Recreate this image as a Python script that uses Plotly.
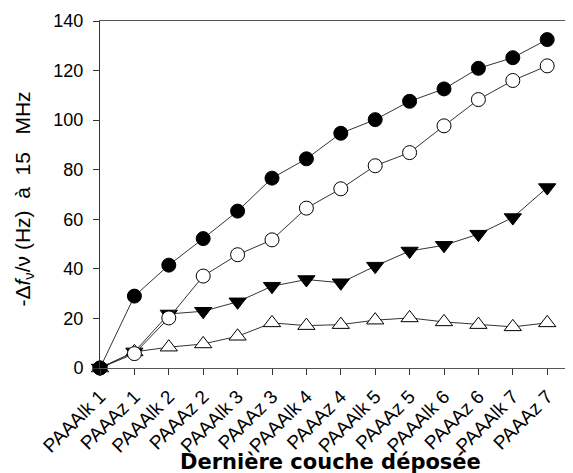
import plotly.graph_objects as go

categories = ["PAAAlk 1", "PAAAz 1", "PAAAlk 2", "PAAAz 2", "PAAAlk 3", "PAAAz 3", "PAAAlk 4",
              "PAAAz 4", "PAAAlk 5", "PAAAz 5", "PAAAlk 6", "PAAAz 6", "PAAAlk 7", "PAAAz 7"]
filled_circles = [0, 29.0, 41.5, 52.2, 63.3, 76.6, 84.4, 94.7, 100.2, 107.6, 112.6, 120.9, 125.2, 132.5]
open_circles = [0, 5.8, 20.2, 37.1, 45.7, 51.7, 64.5, 72.3, 81.6, 86.9, 97.7, 108.3, 116.0, 121.9]
filled_triangles = [0, 6.5, 21.8, 22.9, 26.7, 33.0, 35.7, 34.4, 41.1, 47.2, 49.5, 54.0, 60.7, 72.8]
open_triangles = [0, 6.5, 8.4, 9.7, 12.8, 18.2, 17.1, 17.5, 19.3, 20.2, 18.6, 17.5, 16.6, 18.2]
y_ticks = [0, 20, 40, 60, 80, 100, 120, 140]

xs = list(range(len(categories)))
fig = go.Figure()

def add(vals, symbol, fill, size):
    fig.add_trace(go.Scatter(
        x=xs, y=vals, mode="lines+markers",
        line=dict(color="#333333", width=1),
        marker=dict(symbol=symbol, size=size, color=fill, line=dict(color="black", width=1)),
        cliponaxis=False, showlegend=False))

add(open_triangles, "triangle-up", "white", 15)
add(filled_triangles, "triangle-down", "black", 15)
add(open_circles, "circle", "white", 14)
add(filled_circles, "circle", "black", 14)

# the page body adds an 8px offset; plot area targets: left 100, top 21, bottom 368, right 573
fig.update_layout(
    width=565, height=465,
    margin=dict(l=92, r=0, t=13, b=105),
    paper_bgcolor="white", plot_bgcolor="white",
    xaxis=dict(
        range=[0, 13.75], tickvals=xs, ticktext=categories, tickangle=-45,
        showline=True, linecolor="#555555", linewidth=1, mirror=True,
        ticks="outside", ticklen=6, tickcolor="#333333", showgrid=False, zeroline=False,
        tickfont=dict(family="Liberation Sans", size=19, color="black"),
        ticklabelstandoff=3,
    ),
    yaxis=dict(
        range=[0, 140], tickvals=y_ticks,
        showline=True, linecolor="#333333", linewidth=1, mirror=False,
        ticks="outside", ticklen=6, tickcolor="#333333", showgrid=False, zeroline=False,
        tickfont=dict(family="Liberation Sans", size=18, color="black"),
        ticklabelstandoff=6,
    ),
    annotations=[
        dict(text="-Δ<i>f</i><sub>ν</sub>/ν (Hz)&nbsp;&nbsp;à&nbsp;&nbsp;15&nbsp;&nbsp;&nbsp;MHz", textangle=-90,
             xref="paper", yref="paper", x=(23 - 100) / 473, y=(368 - 199.5) / 347,
             xanchor="center", yanchor="middle", showarrow=False,
             font=dict(family="Liberation Sans", size=21, color="black")),
        dict(text="<b>Dernière couche déposée</b>",
             xref="paper", yref="paper", x=(330 - 100) / 473, y=(368 - 462) / 347,
             xanchor="center", yanchor="middle", showarrow=False,
             font=dict(family="DejaVu Sans", size=21, color="black")),
    ],
)

fig.write_html("out.html")
